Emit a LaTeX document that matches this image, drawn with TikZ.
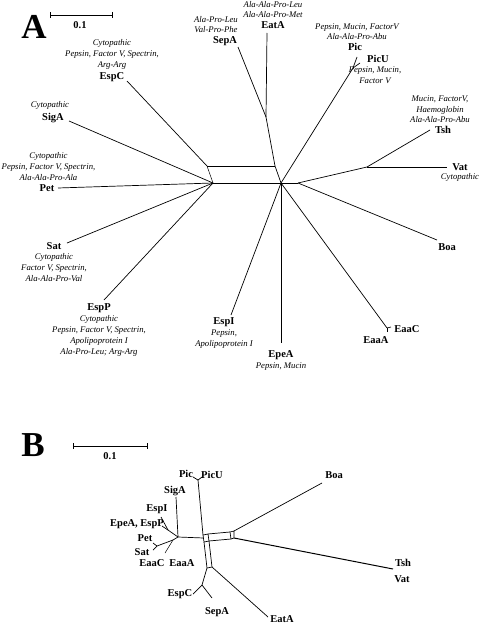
\documentclass[tikz,border=0pt]{standalone}
\usepackage{fontspec}
\setmainfont{Liberation Serif}
\usetikzlibrary{positioning}
\usetikzlibrary{arrows.meta}

\begin{document}
\begin{tikzpicture}[x=1pt,y=-1pt,
    gene/.style={font=\fontsize{10.5}{12}\selectfont\bfseries,inner sep=0.5pt},
    note/.style={font=\fontsize{8.7}{10.8}\selectfont\itshape,align=center,inner sep=0.5pt},
    panel/.style={font=\fontsize{35}{35}\selectfont\bfseries,inner sep=0pt},
    branch/.style={line width=0.7pt},
    twin/.style={double,double distance=1pt,line width=0.5pt},
    heavy/.style={double,double distance=0.9pt,line width=1pt},
    scalebar/.style={line width=0.7pt,{Bar[width=6pt]}-{Bar[width=6pt]}}]
  \useasboundingbox (0,0) rectangle (480,626);

  % panel A
  \node[panel] (pa) at (34,27) {A};
  \coordinate (sa1) at (50,15);
  \coordinate (sa2) at (113,15);
  \draw[scalebar] (sa1) -- (sa2);
  \node[gene] (ka) at (80,25) {0.1};

  \coordinate (a-l) at (213,183);
  \coordinate (a-lt) at (207,166);
  \coordinate (a-t) at (275,166);
  \coordinate (a-s) at (266,117);
  \coordinate (a-r) at (281,183);
  \coordinate (a-p) at (353,68);
  \coordinate (a-rv) at (298,183);
  \coordinate (a-v) at (367,167);
  \coordinate (a-espc) at (127,81);
  \coordinate (a-siga) at (69,121);
  \coordinate (a-pet) at (58,188);
  \coordinate (a-sat) at (67,243);
  \coordinate (a-espp) at (104,300);
  \coordinate (a-espi) at (231,315);
  \coordinate (a-epea) at (281,343);
  \coordinate (a-eaa) at (387,328);
  \coordinate (a-eaac) at (391,327);
  \coordinate (a-eaaa) at (387,332);
  \coordinate (a-boa) at (437,240);
  \coordinate (a-vat) at (447,167);
  \coordinate (a-tsh) at (430,130);
  \coordinate (a-pic) at (357,57);
  \coordinate (a-picu) at (360,63);
  \coordinate (a-sepa) at (238,47);
  \coordinate (a-eata) at (267,33);

  \path[branch]
    (a-espc) edge (a-lt)
    (a-lt) edge (a-t)
    (a-t) edge (a-s)
    (a-s) edge (a-sepa)
    (a-s) edge (a-eata)
    (a-t) edge (a-r)
    (a-siga) edge (a-l)
    (a-pet) edge (a-l)
    (a-sat) edge (a-l)
    (a-espp) edge (a-l)
    (a-r) edge (a-p)
    (a-p) edge (a-pic)
    (a-p) edge (a-picu)
    (a-r) edge (a-rv)
    (a-rv) edge (a-v)
    (a-v) edge (a-tsh)
    (a-v) edge (a-vat)
    (a-rv) edge (a-boa)
    (a-r) edge (a-eaa)
    (a-eaa) edge (a-eaac)
    (a-eaa) edge (a-eaaa)
    (a-r) edge (a-epea)
    (a-r) edge (a-espi);
  \path[twin]
    (a-lt) edge (a-l)
    (a-l) edge (a-r);

  \node[gene] (espc) at (112,77) {EspC};
  \node[note,above=2pt of espc] (espc-n) {Cytopathic\\Pepsin, Factor V, Spectrin,\\Arg-Arg};
  \node[gene] (siga) at (53,118) {SigA};
  \node[note,above=2pt of siga,xshift=-3pt] (siga-n) {Cytopathic};
  \node[gene] (pet) at (47,188) {Pet};
  \node[note,above=2.5pt of pet,xshift=1.5pt] (pet-n) {Cytopathic\\Pepsin, Factor V, Spectrin,\\Ala-Ala-Pro-Ala};
  \node[gene] (sat) at (54,246) {Sat};
  \node[note,below=2.5pt of sat] (sat-n) {Cytopathic\\Factor V, Spectrin,\\Ala-Ala-Pro-Val};
  \node[gene] (espp) at (99,308) {EspP};
  \node[note,below=2pt of espp] (espp-n) {Cytopathic\\Pepsin, Factor V, Spectrin,\\Apolipoprotein I\\Ala-Pro-Leu; Arg-Arg};
  \node[gene] (espi) at (224,322) {EspI};
  \node[note,below=2pt of espi] (espi-n) {Pepsin,\\Apolipoprotein I};
  \node[gene] (epea) at (281,355) {EpeA};
  \node[note,below=2pt of epea] (epea-n) {Pepsin, Mucin};
  \node[gene] (eaac) at (407,329) {EaaC};
  \node[gene] (eaaa) at (376,340) {EaaA};
  \node[gene] (boa) at (447,247) {Boa};
  \node[gene] (vat) at (460,167) {Vat};
  \node[note,below=2pt of vat] (vat-n) {Cytopathic};
  \node[gene] (tsh) at (443,130) {Tsh};
  \node[note,above=2pt of tsh,xshift=-3pt] (tsh-n) {Mucin, FactorV,\\Haemoglobin\\Ala-Ala-Pro-Abu};
  \node[gene] (picu) at (378,59) {PicU};
  \node[note,below=2.5pt of picu,xshift=-3pt] (picu-n) {Pepsin, Mucin,\\Factor V};
  \node[gene] (pic) at (355,47) {Pic};
  \node[note,above=2pt of pic,xshift=2pt] (pic-n) {Pepsin, Mucin, FactorV\\Ala-Ala-Pro-Abu};
  \node[gene] (eata) at (273,25) {EatA};
  \node[note,above=2pt of eata] (eata-n) {Ala-Ala-Pro-Leu\\Ala-Ala-Pro-Met};
  \node[gene] (sepa) at (225,41) {SepA};
  \node[note,above=2pt of sepa,xshift=-9pt] (sepa-n) {Ala-Pro-Leu\\Val-Pro-Phe};

  % panel B
  \node[panel] (pb) at (33,445) {B};
  \coordinate (sb1) at (73,446);
  \coordinate (sb2) at (148,446);
  \draw[scalebar] (sb1) -- (sb2);
  \node[gene] (kb) at (110,456) {0.1};

  \coordinate (b-j) at (178,537);
  \coordinate (b-m) at (203.5,538);
  \coordinate (b-k1) at (168,530);
  \coordinate (b-k2) at (173,540);
  \coordinate (b-ps) at (157,546);
  \coordinate (b-siga) at (176,497);
  \coordinate (b-espi) at (161,517);
  \coordinate (b-espp) at (162,526);
  \coordinate (b-pet) at (153,543);
  \coordinate (b-sat) at (153,550);
  \coordinate (b-eaa) at (165,553);
  \coordinate (b-a1) at (203,535);
  \coordinate (b-a2) at (208,534);
  \coordinate (b-a3) at (209,541);
  \coordinate (b-a4) at (204,542);
  \coordinate (b-c1) at (230,532);
  \coordinate (b-c2) at (234,531);
  \coordinate (b-c3) at (234,538);
  \coordinate (b-c4) at (231,539);
  \coordinate (b-g) at (207,568);
  \coordinate (b-h) at (212,567);
  \coordinate (b-pp) at (198,480);
  \coordinate (b-pic) at (193,477);
  \coordinate (b-picu) at (202,477);
  \coordinate (b-es) at (202,585);
  \coordinate (b-espc) at (193,594);
  \coordinate (b-sepa) at (212,598);
  \coordinate (b-eata) at (268,617);
  \coordinate (b-boa) at (322,483);
  \coordinate (b-tv) at (393,569);

  \draw[branch] (b-a1) -- (b-a2) -- (b-a3) -- (b-a4) -- cycle;
  \draw[branch] (b-c1) -- (b-c2) -- (b-c3) -- (b-c4) -- cycle;
  \path[branch]
    (b-pp) edge (b-pic)
    (b-pp) edge (b-picu)
    (b-pp) edge (b-a1)
    (b-j) edge (b-m)
    (b-a2) edge (b-c1)
    (b-a3) edge (b-c4)
    (b-a4) edge (b-g)
    (b-a3) edge (b-h)
    (b-g) edge (b-h)
    (b-g) edge (b-es)
    (b-es) edge (b-espc)
    (b-es) edge (b-sepa)
    (b-h) edge (b-eata)
    (b-c2) edge (b-boa)
    (b-j) edge (b-siga)
    (b-j) edge (b-k1)
    (b-k1) edge (b-espi)
    (b-k1) edge (b-espp)
    (b-j) edge (b-k2)
    (b-k2) edge (b-ps)
    (b-ps) edge (b-pet)
    (b-ps) edge (b-sat);
  \path[twin] (b-k2) edge (b-eaa);
  \path[heavy] (b-c3) edge (b-tv);

  \node[gene] (b-pic-l) at (186,474) {Pic};
  \node[gene] (b-picu-l) at (212,475) {PicU};
  \node[gene] (b-siga-l) at (175,491) {SigA};
  \node[gene] (b-espi-l) at (157,509) {EspI};
  \node[gene] (b-espp-l) at (137,524) {EpeA, EspP};
  \node[gene] (b-pet-l) at (145,538) {Pet};
  \node[gene] (b-sat-l) at (142,552) {Sat};
  \node[gene] (b-eaac-l) at (152,563) {EaaC};
  \node[gene] (b-eaaa-l) at (182,563) {EaaA};
  \node[gene] (b-espc-l) at (180,594) {EspC};
  \node[gene] (b-sepa-l) at (217,612) {SepA};
  \node[gene] (b-eata-l) at (282,619.5) {EatA};
  \node[gene] (b-boa-l) at (334,475) {Boa};
  \node[gene] (b-tsh-l) at (403,563) {Tsh};
  \node[gene] (b-vat-l) at (402,579) {Vat};
\end{tikzpicture}
\end{document}
